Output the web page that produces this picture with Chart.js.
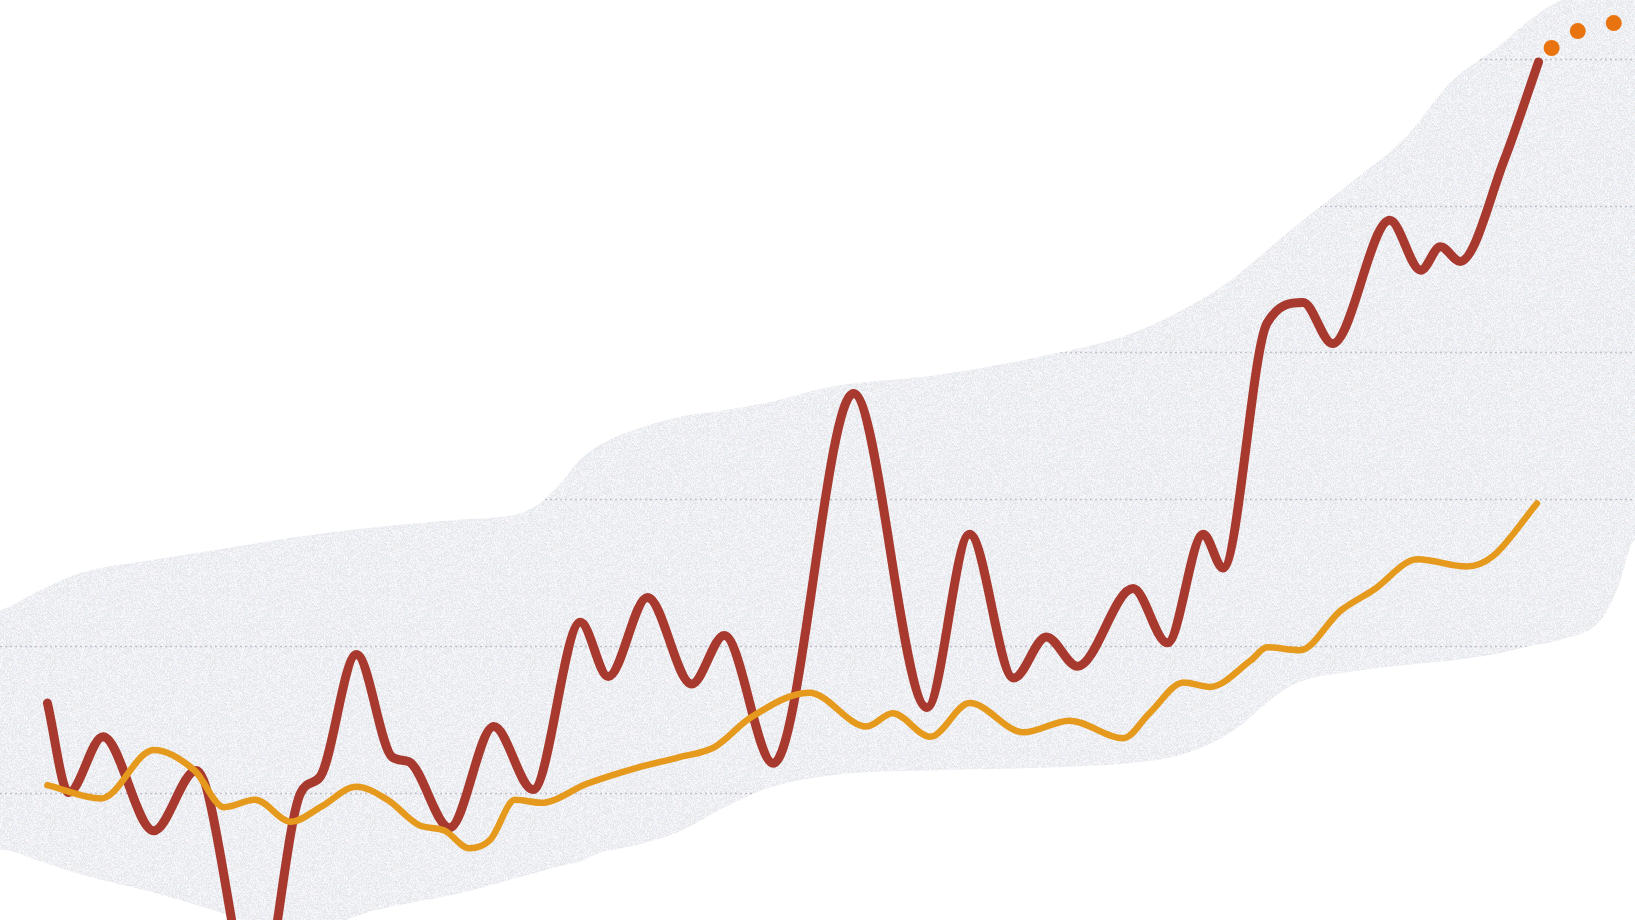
<!DOCTYPE html>
<html lang="en">
<head>
    <meta charset="UTF-8">
    <title>Two series sketch</title>
    <script src="https://cdn.jsdelivr.net/npm/chart.js"></script>
    <style>
        html, body {
            margin: 0;
            padding: 0;
            background-color: #fff;
            overflow: hidden;
        }
        .chart-box {
            width: 1635px;
            height: 920px;
            position: relative;
        }
    </style>
</head>
<body>
    <div class="chart-box">
        <canvas id="sketchChart"></canvas>
    </div>

    <script>
        // red series (irregular x positions)
        const redX = [2.9, 4.2, 6.3, 9.4, 12.0, 15.7, 18.4, 19.6, 21.8, 24.0, 25.0, 27.5, 30.2, 32.6, 35.5, 37.2, 39.6, 42.3, 44.3, 47.3, 52.2, 56.7, 59.3, 62.0, 64.0, 65.9, 69.3, 71.4, 73.6, 74.8, 77.5, 79.7, 81.5, 85.0, 86.9, 88.1, 89.3, 92.0, 94.1];
        const redY = [16.1, 10.0, 13.8, 7.4, 11.5, -4.8, 10.0, 11.1, 19.4, 12.4, 12.1, 7.6, 14.5, 10.2, 21.6, 17.9, 23.3, 17.4, 20.7, 12.0, 37.2, 15.8, 27.6, 17.8, 20.6, 18.6, 23.9, 20.2, 27.6, 25.3, 42.0, 43.4, 40.6, 49.0, 45.6, 47.2, 46.2, 53.1, 59.8];

        // orange series
        const orangeX = [2.9, 6.2, 9.4, 11.9, 13.7, 15.6, 17.8, 19.6, 21.8, 23.7, 25.6, 27.2, 28.7, 30.0, 31.5, 33.1, 35.9, 39.0, 41.5, 43.7, 45.9, 49.5, 53.0, 54.6, 56.9, 59.3, 62.6, 65.4, 68.7, 70.3, 72.4, 74.0, 76.5, 77.5, 79.5, 82.0, 84.0, 86.7, 89.7, 91.3, 94.0];
        const orangeY = [10.5, 9.6, 12.9, 11.5, 9.0, 9.5, 8.0, 9.0, 10.4, 9.5, 7.8, 7.4, 6.2, 6.8, 9.5, 9.3, 10.6, 11.7, 12.4, 13.1, 15.1, 16.8, 14.5, 15.4, 13.8, 16.1, 14.1, 14.9, 13.7, 15.4, 17.5, 17.2, 19.0, 19.9, 19.7, 22.4, 23.8, 25.9, 25.4, 26.1, 29.7];

        // grey band behind the lines (upper and lower edge)
        const blobX = [-1, 0, 2.5, 5, 9, 13, 18, 23, 28, 31.7, 33, 34.3, 35.5, 36.7, 38.5, 41.5, 44, 47, 51, 57, 64, 69, 72, 75, 79, 83, 86, 88.7, 91.7, 93.6, 95.4, 98, 99, 100, 101];
        const blobTop = [22.2, 22.4, 23.8, 25.0, 25.8, 26.5, 27.4, 28.1, 28.6, 29.0, 29.7, 31.1, 32.7, 33.7, 34.6, 35.6, 36.0, 36.6, 37.7, 38.4, 39.8, 41.2, 42.7, 44.7, 48.4, 51.9, 54.7, 58.4, 60.9, 62.7, 64.0, 65.4, 66, 66, 66];
        const blobBottom = [6.1, 6.1, 5.3, 4.4, 3.3, 2.0, 0.4, 2.0, 3.1, 4.2, 4.6, 5.0, 5.3, 5.9, 6.3, 7.3, 8.8, 10.3, 11.2, 11.5, 11.7, 12.0, 12.5, 13.9, 17.3, 18.3, 18.7, 19.0, 19.5, 20.0, 20.4, 21.9, 24.1, 27.2, 27.2];

        // "to be continued" dots
        const dotsX = [94.9, 96.5, 98.7];
        const dotsY = [60.75, 61.9, 62.45];

        // dotted guide lines
        const gridValues = [10, 20, 30, 40, 50, 60];

        const toPoints = (xs, ys) => xs.map((x, i) => ({ x: x, y: ys[i] }));

        // paper-like grain for the band
        function makeGrain() {
            const size = 160;
            const c = document.createElement('canvas');
            c.width = size;
            c.height = size;
            const g = c.getContext('2d');
            const img = g.createImageData(size, size);
            const hash = (x, y, k) => {
                const s = Math.sin(x * 12.9898 + y * 78.233 + k * 37.719) * 43758.5453;
                return s - Math.floor(s);
            };
            for (let y = 0; y < size; y++) {
                for (let x = 0; x < size; x++) {
                    const i = (y * size + x) * 4;
                    const d = (hash(x, y, 1) - 0.5) * 22;
                    img.data[i] = 238 + d + (hash(x, y, 2) - 0.5) * 10;
                    img.data[i + 1] = 239 + d;
                    img.data[i + 2] = 243 + d + (hash(x, y, 3) - 0.5) * 10;
                    img.data[i + 3] = 255;
                }
            }
            g.putImageData(img, 0, 0);
            return g.createPattern(c, 'repeat');
        }

        const bandGrid = {
            id: 'bandGrid',
            afterDatasetDraw(chart, args) {
                if (args.index !== 1) return;
                const ctx = chart.ctx;
                const area = chart.chartArea;
                const yScale = chart.scales.y;
                ctx.save();
                ctx.globalCompositeOperation = 'source-atop';
                ctx.strokeStyle = 'rgba(140, 140, 152, 0.45)';
                ctx.lineWidth = 1.5;
                ctx.setLineDash([2, 3]);
                gridValues.forEach(v => {
                    const y = Math.round(yScale.getPixelForValue(v)) + 0.5;
                    ctx.beginPath();
                    ctx.moveTo(area.left, y);
                    ctx.lineTo(area.right, y);
                    ctx.stroke();
                });
                ctx.restore();
            }
        };

        const ctx = document.getElementById('sketchChart').getContext('2d');
        const chart = new Chart(ctx, {
            type: 'line',
            data: {
                datasets: [
                    {
                        label: 'band top',
                        data: toPoints(blobX, blobTop),
                        borderWidth: 0,
                        pointRadius: 0,
                        fill: false,
                        cubicInterpolationMode: 'monotone',
                        order: 5
                    },
                    {
                        label: 'band bottom',
                        data: toPoints(blobX, blobBottom),
                        borderWidth: 0,
                        pointRadius: 0,
                        fill: '-1',
                        backgroundColor: makeGrain(),
                        cubicInterpolationMode: 'monotone',
                        order: 4
                    },
                    {
                        label: 'red',
                        data: toPoints(redX, redY),
                        borderColor: '#a8392e',
                        borderWidth: 9,
                        pointRadius: 0,
                        fill: false,
                        borderCapStyle: 'round',
                        borderJoinStyle: 'round',
                        cubicInterpolationMode: 'monotone',
                        order: 2
                    },
                    {
                        label: 'orange',
                        data: toPoints(orangeX, orangeY),
                        borderColor: '#e59a1d',
                        borderWidth: 6.5,
                        pointRadius: 0,
                        fill: false,
                        borderCapStyle: 'round',
                        borderJoinStyle: 'round',
                        cubicInterpolationMode: 'monotone',
                        order: 1
                    },
                    {
                        label: 'dots',
                        data: toPoints(dotsX, dotsY),
                        showLine: false,
                        pointRadius: 8,
                        pointBackgroundColor: '#e8730f',
                        pointBorderWidth: 0,
                        order: 0
                    }
                ]
            },
            options: {
                responsive: true,
                maintainAspectRatio: false,
                animation: false,
                events: [],
                layout: { padding: 0, autoPadding: false },
                plugins: {
                    legend: { display: false },
                    tooltip: { enabled: false }
                },
                scales: {
                    x: { type: 'linear', min: 0, max: 100, display: false },
                    y: { type: 'linear', min: 1.31, max: 64.02, display: false }
                }
            },
            plugins: [bandGrid]
        });
    </script>
</body>
</html>
